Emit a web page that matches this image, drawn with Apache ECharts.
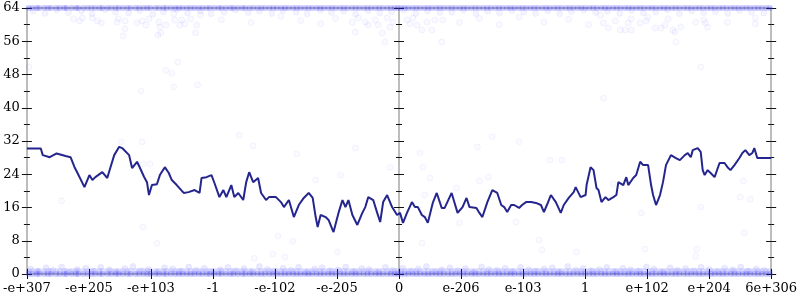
<!DOCTYPE html>
<html>
<head>
<meta charset="utf-8">
<script src="https://cdn.jsdelivr.net/npm/echarts@6/dist/echarts.min.js"></script>
<style>html,body{margin:0;padding:0;background:#fff}#c{width:800px;height:300px}</style>
</head>
<body>
<div id="c"></div>
<script>
// x axis tick labels (x positions -6..6)
const xTickLabels = ['-e+307','-e+205','-e+103','-1','-e-102','-e-205','0','e-206','e-103','1','e+102','e+204','6e+306'];
const yTicks = [0, 8, 16, 24, 32, 40, 48, 56, 64];

// running line
const lineX = [-6,-5.776,-5.744,-5.632,-5.52,-5.376,-5.296,-5.232,-5.184,-5.072,-4.992,-4.944,-4.896,-4.784,-4.704,-4.656,-4.592,-4.512,-4.464,-4.432,-4.352,-4.304,-4.224,-4.176,-4.112,-4.064,-4.032,-3.984,-3.904,-3.856,-3.776,-3.712,-3.664,-3.584,-3.472,-3.392,-3.296,-3.216,-3.184,-3.104,-3.024,-2.976,-2.896,-2.832,-2.784,-2.704,-2.656,-2.592,-2.512,-2.464,-2.416,-2.352,-2.272,-2.224,-2.144,-2.096,-1.984,-1.904,-1.856,-1.776,-1.696,-1.616,-1.536,-1.456,-1.392,-1.344,-1.312,-1.264,-1.184,-1.136,-1.072,-1.056,-0.976,-0.912,-0.864,-0.816,-0.752,-0.672,-0.592,-0.544,-0.496,-0.416,-0.352,-0.304,-0.256,-0.192,-0.112,-0.032,0.016,0.064,0.128,0.208,0.256,0.304,0.368,0.416,0.464,0.544,0.608,0.688,0.736,0.848,0.896,0.944,1.024,1.088,1.136,1.248,1.296,1.344,1.424,1.504,1.584,1.648,1.696,1.744,1.808,1.856,1.936,1.984,2.048,2.128,2.208,2.288,2.336,2.384,2.448,2.528,2.608,2.656,2.736,2.816,2.848,2.928,3.008,3.024,3.088,3.136,3.184,3.216,3.264,3.328,3.376,3.456,3.504,3.536,3.616,3.664,3.696,3.776,3.824,3.888,3.936,4.016,4.064,4.096,4.144,4.208,4.256,4.304,4.384,4.464,4.528,4.608,4.656,4.704,4.736,4.816,4.864,4.896,4.928,4.976,5.024,5.088,5.168,5.248,5.296,5.344,5.408,5.488,5.536,5.584,5.648,5.696,5.728,5.776,6];
const lineY = [30.2,30.2,28.6,28.1,29.0,28.4,28.1,25.7,24.3,20.9,23.8,22.6,23.3,24.5,23.1,25.5,28.6,30.6,30.3,30.6,28.6,25.5,27.0,25.5,23.4,22.1,19.0,21.4,21.6,23.8,25.7,24.3,22.6,21.4,19.5,19.7,20.2,19.5,23.1,23.3,23.8,21.9,18.5,20.2,18.5,21.4,18.5,19.5,17.8,22.1,24.5,22.1,23.1,19.5,17.8,18.5,18.5,17.3,16.1,17.8,13.7,16.6,18.3,19.5,18.3,13.7,11.3,14.2,13.7,13.0,10.6,10.1,14.7,17.8,16.1,17.8,14.2,11.8,14.7,16.1,18.5,17.8,14.7,12.5,17.3,19.0,16.1,14.2,14.7,12.3,14.7,17.3,16.1,16.1,14.2,13.7,12.3,17.1,19.5,15.9,15.9,19.5,17.1,14.7,16.1,18.3,16.1,15.9,14.7,13.7,17.3,20.2,19.5,16.6,16.1,14.9,16.6,16.6,15.9,16.6,17.3,17.3,17.1,16.6,14.9,16.6,19.0,17.3,14.7,16.6,18.3,19.7,20.9,18.5,19.0,21.4,25.7,25.0,20.7,20.2,17.3,18.5,17.8,18.5,19.0,22.1,21.4,23.3,21.4,23.1,23.8,27.0,26.2,26.2,21.4,19.0,16.6,19.0,22.1,26.2,28.6,27.9,27.4,28.6,29.1,28.1,29.8,30.3,29.4,25.0,23.8,25.0,24.3,23.3,26.7,26.7,25.7,25.0,26.2,27.9,29.1,29.8,28.6,29.1,30.3,27.9,27.9];

// dense rows of points on the bottom (y = 0) and top (y = 64) edges
const edgeX = [-5.97,-5.91,-5.84,-5.80,-5.72,-5.66,-5.61,-5.53,-5.47,-5.40,-5.36,-5.28,-5.21,-5.17,-5.09,-5.02,-4.96,-4.90,-4.83,-4.78,-4.70,-4.64,-4.57,-4.52,-4.45,-4.38,-4.33,-4.25,-4.19,-4.12,-4.06,-4.01,-3.93,-3.87,-3.80,-3.75,-3.68,-3.61,-3.55,-3.49,-3.42,-3.36,-3.30,-3.23,-3.17,-3.10,-3.05,-2.98,-2.91,-2.86,-2.79,-2.72,-2.67,-2.60,-2.53,-2.48,-2.41,-2.35,-2.28,-2.22,-2.16,-2.09,-2.03,-1.97,-1.90,-1.84,-1.78,-1.71,-1.65,-1.59,-1.52,-1.46,-1.40,-1.33,-1.27,-1.21,-1.14,-1.08,-1.02,-0.95,-0.89,-0.83,-0.76,-0.70,-0.64,-0.57,-0.51,-0.45,-0.38,-0.32,-0.26,-0.19,-0.13,-0.07,-0.02,0.03,0.09,0.15,0.22,0.28,0.34,0.41,0.47,0.53,0.60,0.66,0.72,0.79,0.85,0.91,0.98,1.04,1.10,1.17,1.23,1.29,1.36,1.42,1.48,1.55,1.61,1.67,1.74,1.80,1.86,1.93,1.99,2.05,2.12,2.18,2.24,2.31,2.37,2.43,2.50,2.56,2.62,2.69,2.75,2.81,2.88,2.94,3.00,3.07,3.13,3.19,3.26,3.32,3.38,3.45,3.51,3.57,3.64,3.70,3.76,3.83,3.89,3.95,4.02,4.08,4.14,4.21,4.27,4.33,4.40,4.46,4.52,4.59,4.65,4.71,4.78,4.84,4.90,4.97,5.03,5.09,5.16,5.22,5.28,5.35,5.41,5.47,5.54,5.60,5.66,5.73,5.79,5.85,5.92,5.98];
const bottomEdgeY = 0;
const bottomRowY = 0.7;
const topEdgeY = 64;

// band just above the bottom edge
const bandLowX = [-5.94,-5.82,-5.69,-5.58,-5.44,-5.31,-5.19,-5.05,-4.93,-4.81,-4.67,-4.55,-4.42,-4.29,-4.16,-4.04,-3.90,-3.78,-3.65,-3.52,-3.39,-3.27,-3.14,-3.01,-2.88,-2.76,-2.63,-2.50,-2.38,-2.25,-2.12,-2.00,-1.87,-1.74,-1.62,-1.49,-1.36,-1.24,-1.11,-0.98,-0.86,-0.73,-0.60,-0.48,-0.35,-0.22,-0.10,0.06,0.19,0.31,0.44,0.57,0.69,0.82,0.95,1.07,1.20,1.33,1.45,1.58,1.71,1.83,1.96,2.09,2.21,2.34,2.47,2.59,2.72,2.85,2.97,3.10,3.23,3.35,3.48,3.61,3.73,3.86,3.99,4.11,4.24,4.37,4.49,4.62,4.75,4.87,5.00,5.13,5.25,5.38,5.51,5.63,5.76,5.89];
const bandLowY = [1.2,0.6,1.5,0.9,1.7,0.5,1.1,1.4,0.7,1.6,1.0,0.4,1.3,1.8,0.8,1.1,0.5,1.5,1.2,0.7,1.7,0.9,1.4,0.6,1.0,1.6,0.8,1.3,0.5,1.8,1.1,0.7,1.4,0.9,1.6,0.4,1.2,1.5,0.8,1.0,1.7,0.6,1.3,1.1,0.5,1.6,0.9,1.4,0.7,1.2,1.8,0.6,1.0,1.5,0.8,1.3,0.4,1.7,1.1,0.9,1.4,0.6,1.6,1.0,0.7,1.2,1.5,0.5,1.8,0.9,1.3,0.8,1.1,1.6,0.6,1.4,1.0,0.7,1.7,1.2,0.5,1.5,0.9,1.3,0.8,1.6,1.1,0.6,1.4,1.0,1.7,0.7,1.2,0.9];

// band just below the top edge
const bandHighX = [-5.90,-5.71,-5.52,-5.33,-5.12,-4.95,-4.74,-4.57,-4.36,-4.18,-3.97,-3.80,-3.59,-3.41,-3.20,-3.03,-2.82,-2.64,-2.43,-2.25,-2.05,-1.87,-1.66,-1.48,-1.27,-1.09,-0.89,-0.70,-0.50,-0.31,-0.12,0.08,0.27,0.46,0.66,0.85,1.04,1.24,1.43,1.62,1.82,2.01,2.20,2.40,2.59,2.78,2.98,3.17,3.36,3.56,3.75,3.94,4.14,4.33,4.52,4.72,4.91,5.10,5.30,5.49,5.68,5.88];
const bandHighY = [63.2,62.7,63.5,62.9,63.3,62.6,63.6,63.0,62.8,63.4,62.5,63.1,63.6,62.8,63.3,62.6,63.0,63.5,62.9,63.2,62.7,63.4,63.0,62.6,63.5,62.9,63.2,62.5,63.4,62.8,63.1,63.6,62.7,63.3,62.9,63.0,63.5,62.6,63.2,62.8,63.4,63.0,62.7,63.3,62.6,63.1,63.5,62.9,63.2,62.7,63.4,62.8,63.0,63.6,62.6,63.3,62.9,63.1,62.7,63.4,63.0,62.8];

// sparse points below the top edge
const topSparse = [[-5.248,61.4],[-5.152,60.9],[-5.104,61.6],[-4.944,61.6],[-4.864,60.9],[-4.8,60.4],[-4.544,60.6],[-4.528,61.4],[-4.416,60.9],[-4.416,59.0],[-4.448,57.3],[-4.224,60.4],[-4.144,60.9],[-4.08,59.9],[-4.032,61.4],[-3.872,60.6],[-3.856,59.4],[-3.888,57.5],[-3.84,58.0],[-3.76,59.9],[-3.632,62.6],[-3.616,61.1],[-3.536,59.9],[-3.504,61.1],[-3.456,60.2],[-3.36,61.4],[-3.28,58.0],[-3.264,59.9],[-3.2,62.3],[-2.864,61.2],[-2.384,60.5],[-1.904,62.0],[-1.584,61.0],[-1.264,60.2],[-1.024,61.5],[-0.752,60.6],[-0.704,58.2],[-0.656,61.6],[-0.544,60.6],[-0.496,59.9],[-0.384,61.1],[-0.336,59.9],[-0.272,58.0],[-0.224,55.8],[-0.192,61.6],[-0.144,59.4],[-0.096,60.6],[0.128,61.1],[0.176,60.2],[0.224,61.6],[0.288,59.9],[0.368,58.7],[0.448,60.6],[0.528,58.7],[0.576,61.1],[0.688,55.8],[0.704,61.1],[0.976,60.5],[1.296,61.5],[1.616,60.0],[1.936,61.8],[2.336,60.6],[2.736,61.3],[3.056,60.0],[3.248,62.3],[3.296,60.4],[3.376,59.2],[3.488,60.9],[3.568,58.7],[3.648,58.7],[3.696,60.4],[3.744,61.4],[3.744,58.7],[3.888,60.4],[3.984,60.9],[4.016,61.8],[4.128,59.2],[4.224,59.2],[4.288,59.9],[4.336,61.4],[4.416,58.7],[4.448,58.2],[4.544,59.4],[4.784,60.6],[4.912,61.1],[4.944,60.4],[4.976,59.4],[5.296,60.6],[5.744,61.6],[5.744,60.2]];

// scattered points in the middle of the plot
const midPoints = [[-3.76,49.0],[-3.664,48.3],[-3.568,51.0],[-3.632,45.0],[-4.16,44.0],[-3.248,45.5],[-5.968,49.8],[-5.44,17.6],[-4.128,11.3],[-4.48,31.8],[-4.144,31.8],[-4.016,26.5],[-4.128,26.5],[-3.904,7.4],[-2.576,33.4],[-2.352,30.8],[-1.648,28.9],[-1.344,22.6],[-0.704,30.3],[-0.144,25.7],[-0.944,23.8],[-1.952,9.1],[-1.712,7.9],[0.336,29.1],[0.384,25.7],[1.264,30.6],[1.504,33.0],[1.936,31.8],[1.296,22.4],[1.44,23.3],[0.496,23.1],[0.928,20.7],[2.432,27.4],[2.624,27.4],[0.416,19.0],[0.976,12.3],[1.888,12.5],[0.368,7.4],[2.256,8.2],[-0.992,5.3],[3.456,21.7],[3.904,14.7],[4.864,16.1],[5.504,18.5],[5.664,18.0],[5.552,22.4],[5.568,9.9],[3.968,6.0],[4.8,6.0],[4.464,55.8],[4.864,49.8],[3.296,42.3],[-2.336,3.8],[-2.032,4.8],[-1.84,4.1],[2.864,5.3],[4.784,4.3],[2.304,5.8]];

function zip(xs, ys) {
  const n = Math.min(xs.length, ys.length);
  const out = [];
  for (let i = 0; i < n; i++) out.push([xs[i], ys[i]]);
  return out;
}

const chart = echarts.init(document.getElementById('c'), null, {renderer: 'canvas'});
const FONT = 'DejaVu Serif';
const AX = '#bdbdbd';
const TK = '#111';

function scatter(data, fillA, borderA) {
  return {type: 'scatter', data: data, symbolSize: 6,
    itemStyle: {color: 'rgba(50,50,255,' + fillA + ')', borderColor: 'rgba(50,50,255,' + borderA + ')', borderWidth: borderA > 0 ? 1 : 0},
    clip: false, silent: true, animation: false, z: 2};
}

function yAx(pos, inside, opts) {
  return Object.assign({
    type: 'value', position: pos, min: 0, max: 64, interval: 8,
    axisLine: {show: !inside, onZero: false, lineStyle: {color: AX, width: 2}},
    axisTick: {show: true, inside: inside, length: 5, lineStyle: {color: TK, width: 1}},
    minorTick: {show: true, splitNumber: 2, length: 3, lineStyle: {color: TK, width: 1}},
    axisLabel: {show: false},
    splitLine: {show: false}, minorSplitLine: {show: false}
  }, opts || {});
}
function xAx(pos, inside, opts) {
  return Object.assign({
    type: 'value', position: pos, min: -6, max: 6, interval: 1,
    axisLine: {show: !inside, onZero: false, lineStyle: {color: AX, width: 2}},
    axisTick: {show: true, inside: inside, length: 5, lineStyle: {color: TK, width: 1}},
    axisLabel: {show: false},
    splitLine: {show: false}
  }, opts || {});
}

chart.setOption({
  animation: false,
  backgroundColor: '#fff',
  grid: {left: 24, right: 26, top: 8, bottom: 26, containLabel: false},
  xAxis: [
    xAx('bottom', false, {axisLabel: {show: true, margin: 8, color: '#000', fontFamily: FONT, fontSize: 13,
      formatter: function (v) { return xTickLabels[Math.round(v) + 6]; }}}),
    xAx('bottom', true),
    xAx('top', false, {axisTick: {show: false}})
  ],
  yAxis: [
    yAx('left', false, {axisLabel: {show: true, margin: 7, color: '#000', fontFamily: FONT, fontSize: 13,
      formatter: function (v) { return yTicks.indexOf(v) >= 0 ? String(v) : ''; }}}),
    yAx('left', true),
    yAx('right', false),
    yAx('right', true),
    yAx('left', false, {axisLine: {show: true, onZero: true, lineStyle: {color: AX, width: 2}}}),
    yAx('left', true, {axisLine: {show: false, onZero: true}})
  ],
  series: [
    scatter(edgeX.map(function (x) { return [x, bottomEdgeY]; }), 0.3, 0),
    scatter(edgeX.map(function (x) { return [x, bottomRowY]; }), 0.16, 0),
    scatter(edgeX.map(function (x) { return [x, topEdgeY]; }), 0.3, 0),
    scatter(zip(bandLowX, bandLowY), 0.12, 0.08),
    scatter(zip(bandHighX, bandHighY), 0.07, 0.06),
    scatter(topSparse, 0.04, 0.07),
    scatter(midPoints, 0.03, 0.06),
    {type: 'line', data: zip(lineX, lineY), showSymbol: false, symbol: 'none',
      lineStyle: {color: '#25258e', width: 2}, silent: true, animation: false, z: 3}
  ]
});
</script>
</body>
</html>
